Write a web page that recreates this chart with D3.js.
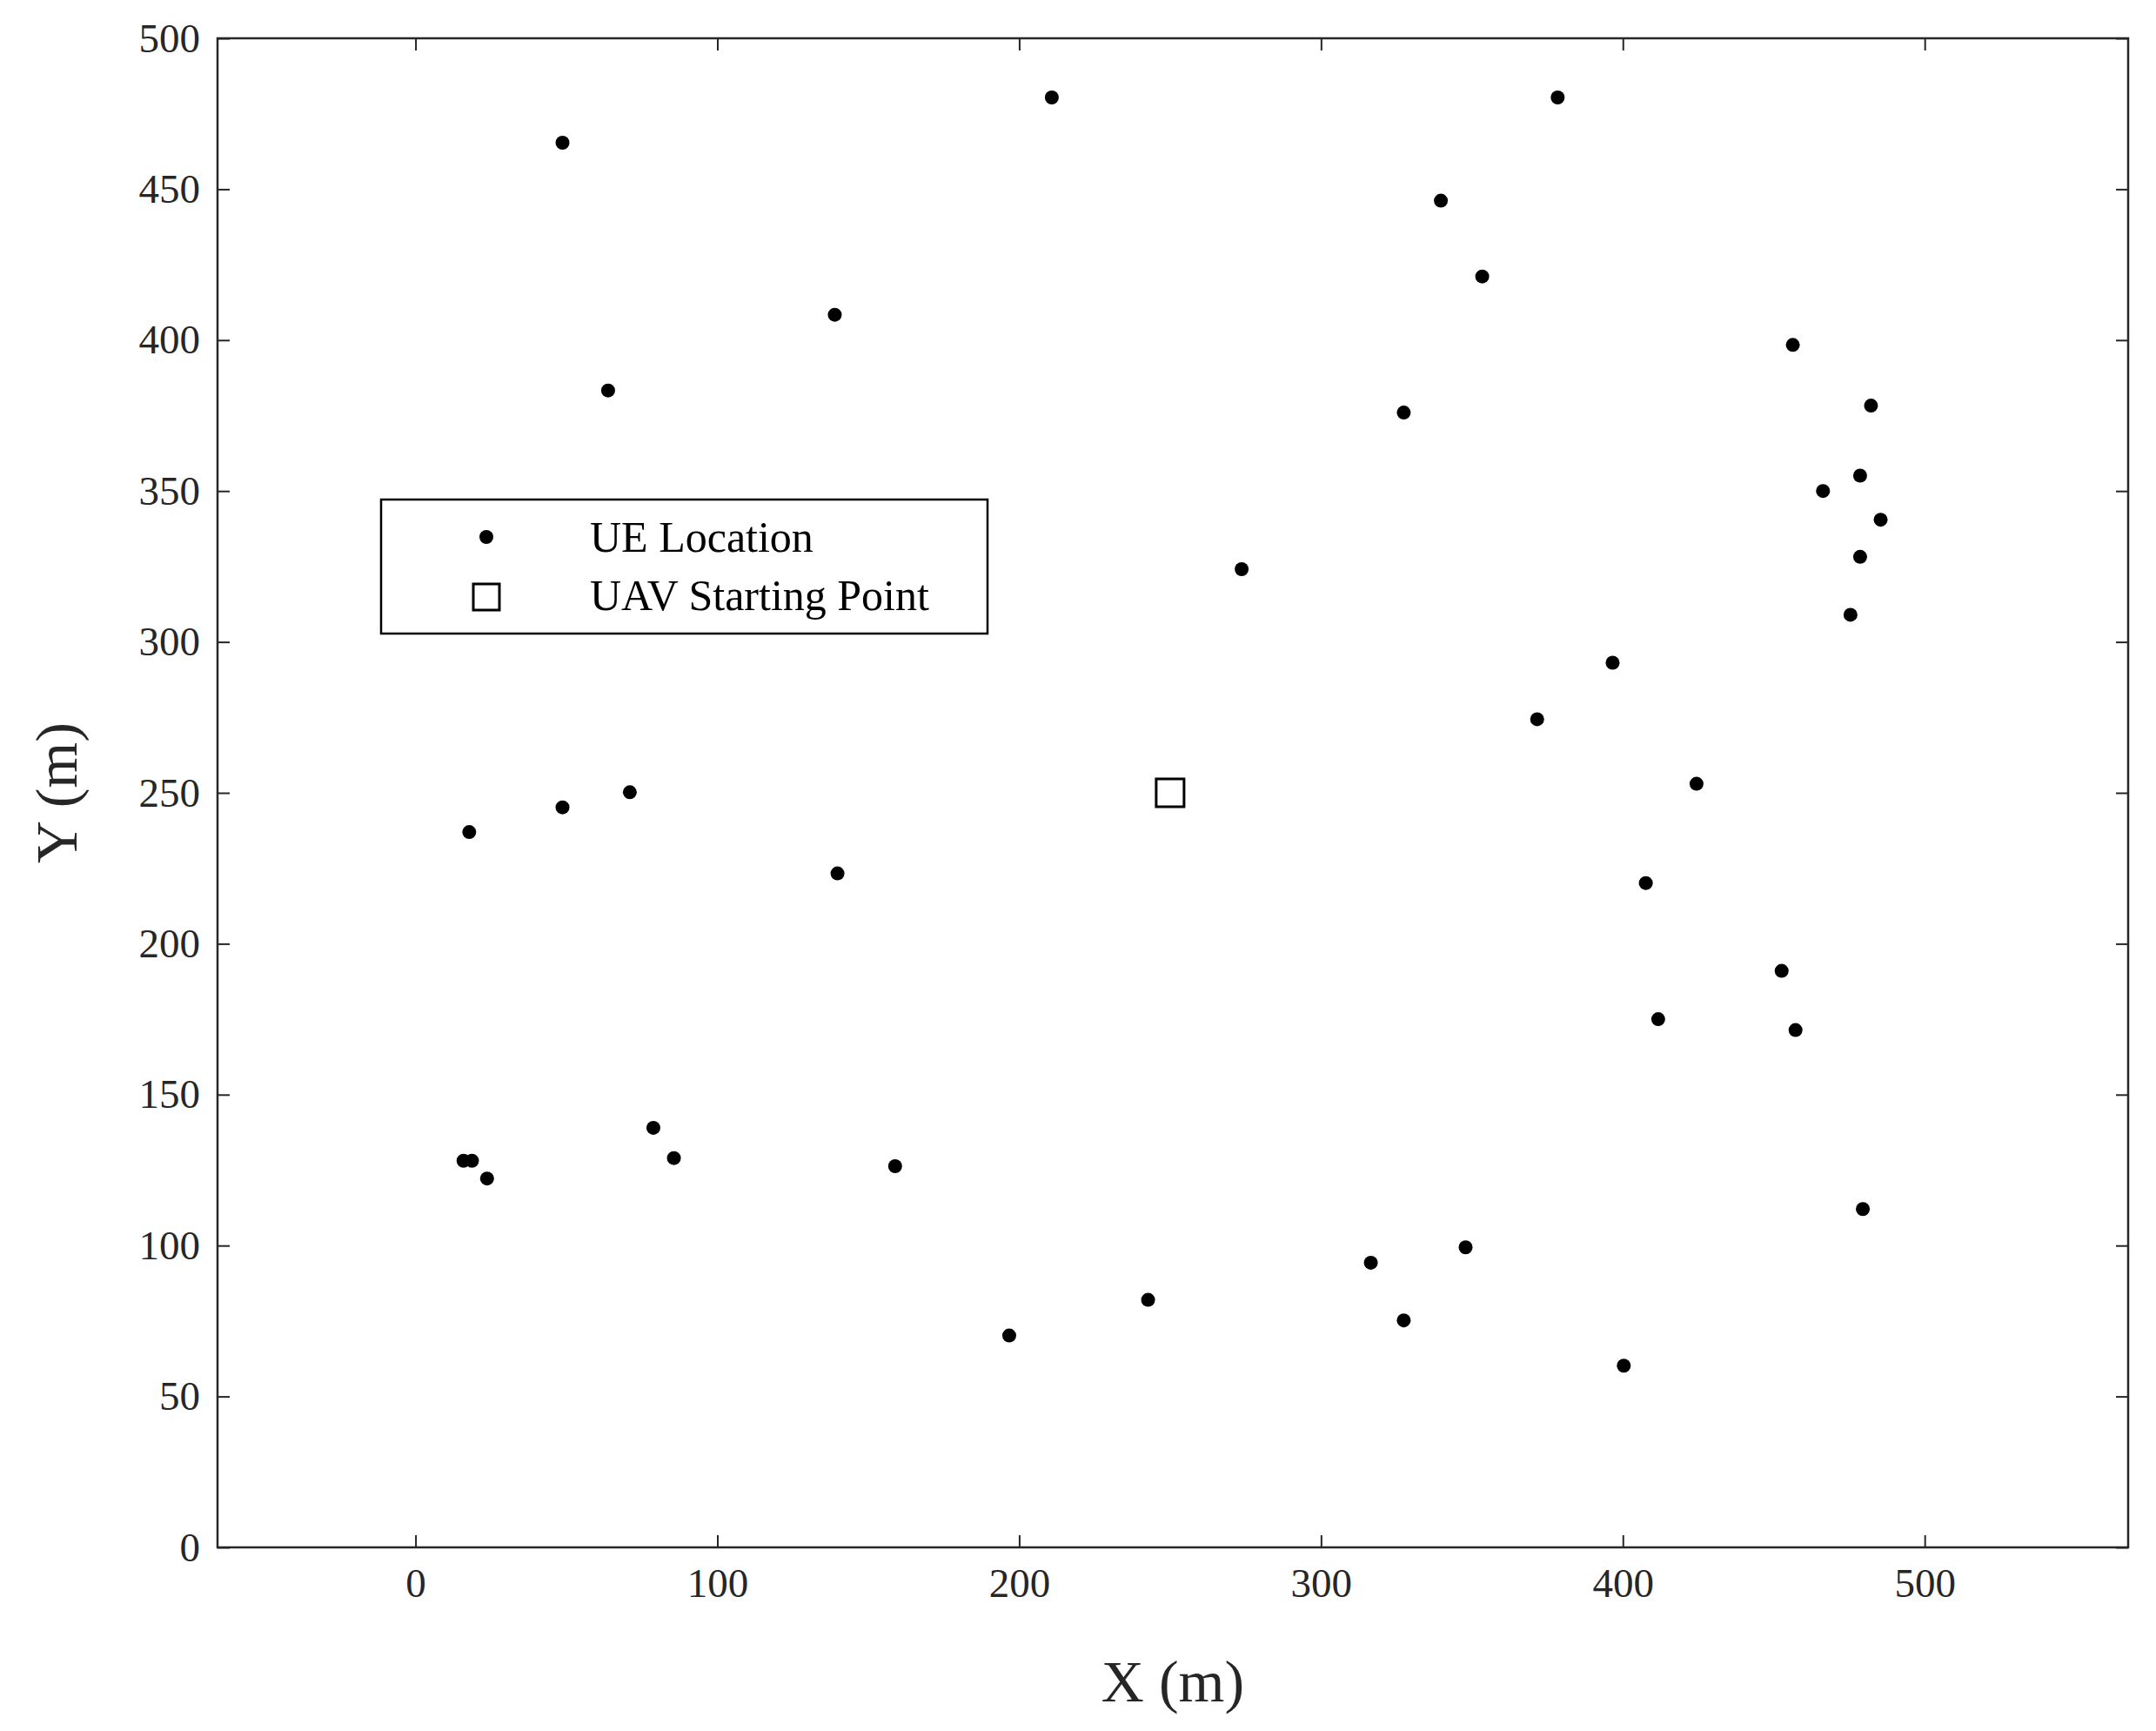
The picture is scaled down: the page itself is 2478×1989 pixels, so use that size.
<!DOCTYPE html>
<html><head><meta charset="utf-8">
<script src="https://cdn.jsdelivr.net/npm/d3@7"></script>
<style>body{margin:0;background:#fff}</style></head>
<body><svg id="c" width="2478" height="1989"></svg>
<script>
const ueX=[48.7,210.8,378.4,339.7,353.4,138.9,63.8,327.4,456.3,482.2,478.6,466.3,485.4,478.6,475.4,273.7,396.6,371.6,424.4,71.0,48.7,17.8,139.8,407.6,452.6,411.7,457.2,78.8,85.6,15.9,18.7,23.7,158.9,479.5,316.5,347.9,327.4,242.7,196.7,400.3];
const ueY=[465.4,480.4,480.4,446.2,421.1,408.4,383.3,376.0,398.4,378.3,355.1,350.0,340.5,328.2,309.0,324.1,293.1,274.4,253.0,250.2,245.2,237.0,223.3,220.1,191.0,175.0,171.4,139.0,129.0,128.1,128.1,122.2,126.3,112.1,94.3,99.4,75.2,82.0,70.2,60.2];
const uavX=[250], uavY=[250];
const xTicks=[0,100,200,300,400,500], yTicks=[0,50,100,150,200,250,300,350,400,450,500];
const legendLabels=["UE Location","UAV Starting Point"];

const svg=d3.select("#c"), F="'Liberation Serif','Times New Roman',serif";
const L=250,R=2446,T=44,B=1778;
const x=d3.scaleLinear().domain([-65.6,567.4]).range([L,R]);
const y=d3.scaleLinear().domain([0,500]).range([B,T]);
const tl=14;
const ax=svg.append("g").attr("transform",`translate(0,${B})`).call(d3.axisBottom(x).tickValues(xTicks).tickSizeInner(-tl).tickSizeOuter(0).tickPadding(24));
const ay=svg.append("g").attr("transform",`translate(${L},0)`).call(d3.axisLeft(y).tickValues(yTicks).tickSizeInner(-tl).tickSizeOuter(0).tickPadding(20));
svg.append("g").attr("transform",`translate(0,${T})`).call(d3.axisTop(x).tickValues(xTicks).tickSizeInner(-tl).tickSizeOuter(0).tickFormat(""));
svg.append("g").attr("transform",`translate(${R},0)`).call(d3.axisRight(y).tickValues(yTicks).tickSizeInner(-tl).tickSizeOuter(0).tickFormat(""));
svg.selectAll(".domain").remove();
svg.selectAll(".tick line").attr("stroke","#262626").attr("stroke-width",2);
svg.selectAll(".tick text").attr("font-family",F).attr("font-size",47).attr("fill","#262626");
svg.append("rect").attr("x",L).attr("y",T).attr("width",R-L).attr("height",B-T).attr("fill","none").attr("stroke","#262626").attr("stroke-width",2.5);
svg.append("text").attr("x",(L+R)/2).attr("y",1955).attr("text-anchor","middle").attr("font-family",F).attr("font-size",68).attr("fill","#262626").text("X (m)");
svg.append("text").attr("transform",`translate(88,${(T+B)/2}) rotate(-90)`).attr("text-anchor","middle").attr("font-family",F).attr("font-size",68).attr("fill","#262626").text("Y (m)");
svg.append("g").selectAll("circle").data(ueX).join("circle").attr("cx",(d)=>x(d)).attr("cy",(d,i)=>y(ueY[i])).attr("r",8).attr("fill","#000");
svg.append("g").selectAll("rect").data(uavX).join("rect").attr("x",(d)=>x(d)-16).attr("y",(d,i)=>y(uavY[i])-16).attr("width",32).attr("height",32).attr("fill","none").attr("stroke","#000").attr("stroke-width",3);
// legend
svg.append("rect").attr("x",438).attr("y",574).attr("width",697).attr("height",154).attr("fill","#fff").attr("stroke","#000").attr("stroke-width",2.5);
svg.append("circle").attr("cx",559).attr("cy",617).attr("r",8).attr("fill","#000");
svg.append("rect").attr("x",544).attr("y",671).attr("width",30).attr("height",30).attr("fill","none").attr("stroke","#000").attr("stroke-width",3);
legendLabels.forEach((t,i)=>svg.append("text").attr("x",678).attr("y",634+i*67).attr("font-family",F).attr("font-size",50).attr("fill","#000").text(t));
</script></body></html>
